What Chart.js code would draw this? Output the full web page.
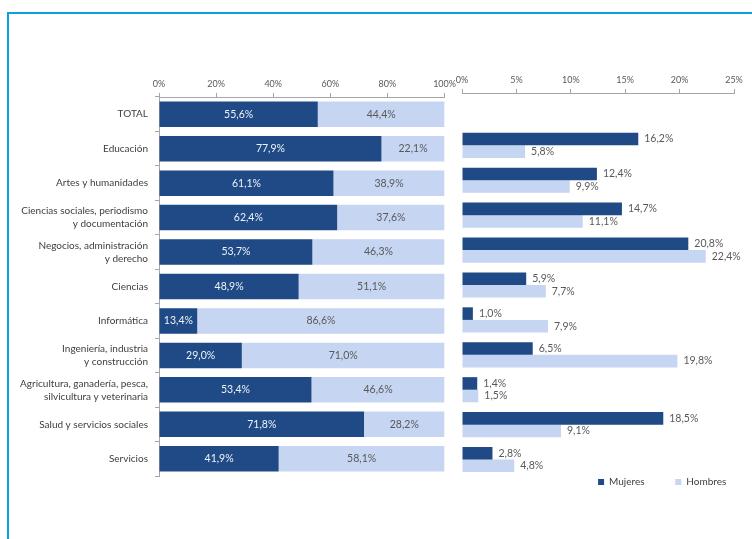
<!DOCTYPE html>
<html>
<head>
<meta charset="utf-8">
<script src="https://cdn.jsdelivr.net/npm/chart.js@4.4.0/dist/chart.umd.min.js"></script>
<style>
  html, body { margin: 0; padding: 0; background: #fff; overflow: hidden; }
  #frame { position: absolute; left: 7px; top: 12px; width: 800px; height: 600px;
           border-left: 2px solid #0ea0dc; border-top: 2px solid #0ea0dc; }
  #share { position: absolute; left: 0; top: 0; }
  #dist { position: absolute; left: 448px; top: 0; }
</style>
</head>
<body>
<div id="frame"></div>
<canvas id="share" width="460" height="539"></canvas>
<canvas id="dist" width="304" height="539"></canvas>
<script>
const categories = [
  'TOTAL',
  'Educación',
  'Artes y humanidades',
  ['Ciencias sociales, periodismo', 'y documentación'],
  ['Negocios, administración', 'y derecho'],
  'Ciencias',
  'Informática',
  ['Ingeniería, industria', 'y construcción'],
  ['Agricultura, ganadería, pesca,', 'silvicultura y veterinaria'],
  'Salud y servicios sociales',
  'Servicios'
];

// % mujeres / hombres dentro de cada ámbito
const mujeresShare = [55.6, 77.9, 61.1, 62.4, 53.7, 48.9, 13.4, 29.0, 53.4, 71.8, 41.9];
const hombresShare = [44.4, 22.1, 38.9, 37.6, 46.3, 51.1, 86.6, 71.0, 46.6, 28.2, 58.1];

// distribución por ámbito de cada sexo (sin dato para TOTAL)
const mujeresDist = [null, 16.2, 12.4, 14.7, 20.8, 5.9, 1.0, 6.5, 1.4, 18.5, 2.8];
const hombresDist = [null, 5.8, 9.9, 11.1, 22.4, 7.7, 7.9, 19.8, 1.5, 9.1, 4.8];

const seriesNames = ['Mujeres', 'Hombres'];

const DARK = '#1f4a85';
const LIGHT = '#c6d5f2';
const GREY_TEXT = '#595959';
const AXIS = '#a6a6a6';

const pct = v => v.toFixed(1).replace('.', ',') + '%';

const valueLabels = {
  id: 'valueLabels',
  afterDatasetsDraw(chart, args, opts) {
    const ctx = chart.ctx;
    ctx.save();
    ctx.font = '10.5px Lato';
    ctx.textBaseline = 'middle';
    chart.data.datasets.forEach((ds, i) => {
      const meta = chart.getDatasetMeta(i);
      meta.data.forEach((bar, j) => {
        const v = ds.data[j];
        if (v == null) return;
        if (opts.inside) {
          ctx.textAlign = 'center';
          ctx.fillStyle = i === 0 ? '#eef2fa' : GREY_TEXT;
          ctx.fillText(pct(v), (bar.x + bar.base) / 2, bar.y);
        } else {
          ctx.textAlign = 'left';
          ctx.fillStyle = GREY_TEXT;
          ctx.fillText(pct(v), bar.x + 6, bar.y);
        }
      });
    });
    ctx.restore();
  }
};

new Chart(document.getElementById('share'), {
  type: 'bar',
  data: {
    labels: categories,
    datasets: [
      { label: seriesNames[0], data: mujeresShare, backgroundColor: DARK },
      { label: seriesNames[1], data: hombresShare, backgroundColor: LIGHT }
    ]
  },
  plugins: [valueLabels],
  options: {
    indexAxis: 'y',
    responsive: false,
    animation: false,
    categoryPercentage: 0.74,
    barPercentage: 1,
    layout: { padding: { left: 9, right: 11, top: 75, bottom: 63 } },
    plugins: {
      legend: { display: false },
      tooltip: { enabled: false },
      valueLabels: { inside: true }
    },
    scales: {
      x: {
        position: 'top',
        stacked: true,
        min: 0,
        max: 100,
        ticks: {
          stepSize: 20,
          padding: 4,
          color: GREY_TEXT,
          font: { family: 'Lato', size: 9 },
          callback: v => v + '%'
        },
        grid: { drawOnChartArea: false, tickLength: 4, color: AXIS },
        border: { color: AXIS },
        afterFit: s => { s.height = 22; }
      },
      y: {
        stacked: true,
        ticks: {
          padding: 7,
          color: '#404040',
          font: { family: 'Lato', size: 10, lineHeight: 1.3 }
        },
        grid: { drawOnChartArea: false, tickLength: 4, color: AXIS },
        border: { color: AXIS },
        afterFit: s => { s.width = 150; }
      }
    }
  }
});

new Chart(document.getElementById('dist'), {
  type: 'bar',
  data: {
    labels: categories,
    datasets: [
      { label: seriesNames[0], data: mujeresDist, backgroundColor: DARK },
      { label: seriesNames[1], data: hombresDist, backgroundColor: LIGHT }
    ]
  },
  plugins: [valueLabels],
  options: {
    indexAxis: 'y',
    responsive: false,
    animation: false,
    categoryPercentage: 0.72,
    barPercentage: 1,
    layout: { padding: { left: 14, right: 18, top: 73, bottom: 42 } },
    plugins: {
      legend: {
        position: 'bottom',
        align: 'end',
        labels: {
          padding: 0,
          boxWidth: 6,
          boxHeight: 6,
          color: '#404040',
          font: { family: 'Lato', size: 10 },
          // the gap between the two entries comes from trailing spaces
          generateLabels: chart => Chart.defaults.plugins.legend.labels.generateLabels(chart)
            .map((item, i) => Object.assign(item, { text: item.text + (i === 0 ? ' '.repeat(12) : ' '.repeat(3)) }))
        }
      },
      tooltip: { enabled: false },
      valueLabels: { inside: false }
    },
    scales: {
      x: {
        position: 'top',
        min: 0,
        max: 25,
        ticks: {
          stepSize: 5,
          padding: 4,
          color: GREY_TEXT,
          font: { family: 'Lato', size: 9 },
          callback: v => v + '%'
        },
        grid: { drawOnChartArea: false, tickLength: 4, color: AXIS },
        border: { color: AXIS },
        afterFit: s => { s.height = 20; }
      },
      y: { display: false }
    }
  }
});
</script>
</body>
</html>
